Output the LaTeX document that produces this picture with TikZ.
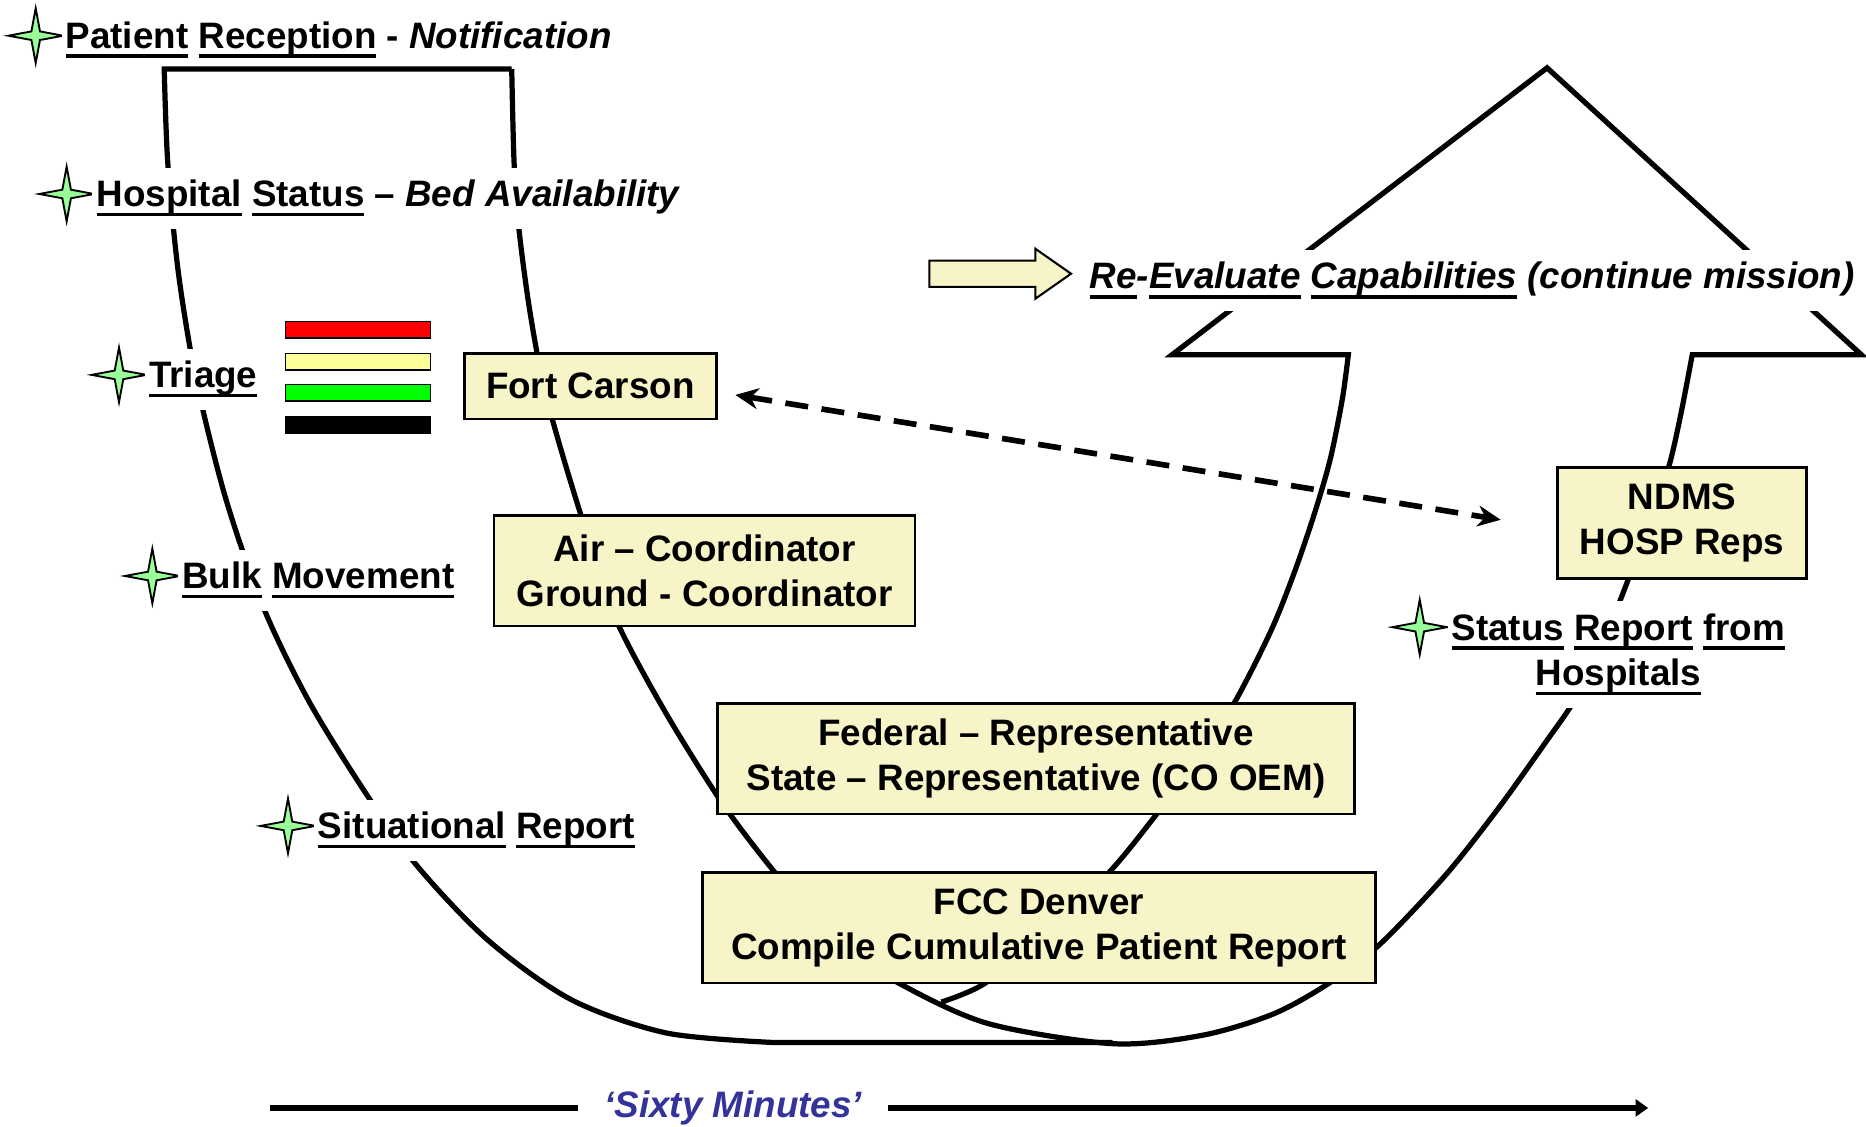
\documentclass[tikz,border=0pt]{standalone}
\usepackage{fontspec}
\setmainfont{Liberation Sans}
\usetikzlibrary{shapes, arrows.meta, positioning, calc}
\definecolor{boxfill}{RGB}{247,244,200}
\definecolor{sparkgreen}{RGB}{153,255,153}
\definecolor{baryellow}{RGB}{255,255,153}
\definecolor{minblue}{RGB}{51,51,153}
\newsavebox{\undlbox}
\newcommand{\undl}[1]{\sbox\undlbox{#1}\rlap{\rule[-4.6pt]{\wd\undlbox}{1.8pt}}\usebox\undlbox}

\begin{document}
\begin{tikzpicture}[
		x=0.02cm, y=-0.02cm,
		every node/.style={font=\fontsize{17.6}{21.6}\selectfont\bfseries},
		elem/.style={draw,rectangle,fill=boxfill,line width=1.3pt,align=center,inner sep=0pt},
		lbl/.style={fill=white,inner xsep=2pt,inner ysep=6pt},
		slbl/.style={lbl,anchor=mid west,yshift=-3.5pt},
		spark/.style={star,star points=4,star point ratio=4.5,minimum size=0.92cm,inner sep=0pt,draw,fill=sparkgreen,line width=0.9pt},
		curve/.style={line width=2.5pt,line join=miter},
		dasharrow/.style={line width=2.7pt,dash pattern=on 11pt off 6.5pt,{Stealth[length=11pt,width=10pt]}-{Stealth[length=11pt,width=10pt]}},
		timeline/.style={line width=2.8pt,-{Triangle[length=6pt,width=8pt]}}
	]
		\useasboundingbox (0,0) rectangle (1568,947);

		\draw [curve] (430,58) -- (138,58) -- plot[smooth] coordinates {(138,58) (141,137) (150,230) (165,320) (190,420) (222,512) (260,590) (307,666) (350,727) (410,790) (480,840) (560,868) (650,876)} -- (935,876);
		\draw [curve] (430,58) -- plot[smooth] coordinates {(430,58) (432,137) (436,192) (445,260) (457,325) (475,390) (500,470) (520,526) (560,600) (607,675) (651,733) (700,790) (755,826) (830,860) (935,877) (1010,870) (1070,852) (1117,826) (1160,793) (1215,735) (1260,678) (1300,622) (1322,590) (1345,545) (1367,490) (1385,440) (1402,393) (1412,350) (1422,298)}
			-- (1564,298) -- (1300,57) -- (985,298) -- (1133,298)
			-- plot[smooth] coordinates {(1133,298) (1128,335) (1118,385) (1105,430) (1088,480) (1068,530) (1037,591) (1005,640) (972,684) (932,733) (880,782) (828,826) (791,842)};

		\foreach \c/\y in {red/270, baryellow/297, green/323, black/350}
			\draw [fill=\c, line width=0.6pt] (240,\y) rectangle +(122,14);

		\draw [fill=boxfill, line width=1pt] (781,219) -- (870,219) -- (870,209) -- (900,230) -- (870,251) -- (870,241) -- (781,241) -- cycle;

		\node (fcar) [elem, minimum width=4.24cm, minimum height=1.1cm] at (496,324.5) {Fort Carson};
		\node (airg) [elem, minimum width=7.08cm, minimum height=1.86cm] at (592,479.5) {Air – Coordinator\\Ground - Coordinator};
		\node (fedr) [elem, minimum width=10.7cm, minimum height=1.86cm] at (870.5,637.5) {Federal – Representative\\State – Representative (CO OEM)};
		\node (fccd) [elem, minimum width=11.32cm, minimum height=1.86cm] at (873,779.5) {FCC Denver\\Compile Cumulative Patient Report};
		\node (ndms) [elem, minimum width=4.18cm, minimum height=1.86cm] at (1413.5,439.5) {NDMS\\HOSP Reps};

		\node (spk1) [spark] at (30,30) {};
		\node (ptre) [right=-3.4pt of spk1, slbl, inner ysep=1.5pt] {\undl{Patient} \undl{Reception} - \textit{Notification}};
		\node (spk2) [spark] at (56,163) {};
		\node (hsst) [right=-3.4pt of spk2, slbl] {\undl{Hospital} \undl{Status} – \textit{Bed Availability}};
		\node (spk3) [spark] at (100,315) {};
		\node (trig) [right=-3.4pt of spk3, slbl] {\undl{Triage}};
		\node (spk4) [spark] at (128,484) {};
		\node (bulk) [right=-3.4pt of spk4, slbl] {\undl{Bulk} \undl{Movement}};
		\node (spk5) [spark] at (242,694) {};
		\node (situ) [right=-3.4pt of spk5, slbl] {\undl{Situational} \undl{Report}};
		\node (spk6) [spark] at (1193,527) {};
		\node (stre) [lbl, align=center, anchor=north west] at (1216,505) {\undl{Status} \undl{Report} \undl{from}\\\undl{Hospitals}};
		\node (reev) [slbl] at (912,232) {\itshape\undl{Re}-\undl{Evaluate} \undl{Capabilities} (continue mission)};

		\draw [dasharrow, shorten <=0.3cm, shorten >=0.95cm] ([yshift=-2.8pt]fcar.east) -- ([yshift=-2.8pt]ndms.west);

		\coordinate (tbeg) at (227,931);
		\coordinate (tend) at (1385,931);
		\draw [timeline] (tbeg) -- (tend) node (sixm) [pos=0.336, fill=white, inner xsep=12.5pt, inner ysep=1pt, text=minblue] {\itshape `Sixty Minutes'};
	\end{tikzpicture}
\end{document}
